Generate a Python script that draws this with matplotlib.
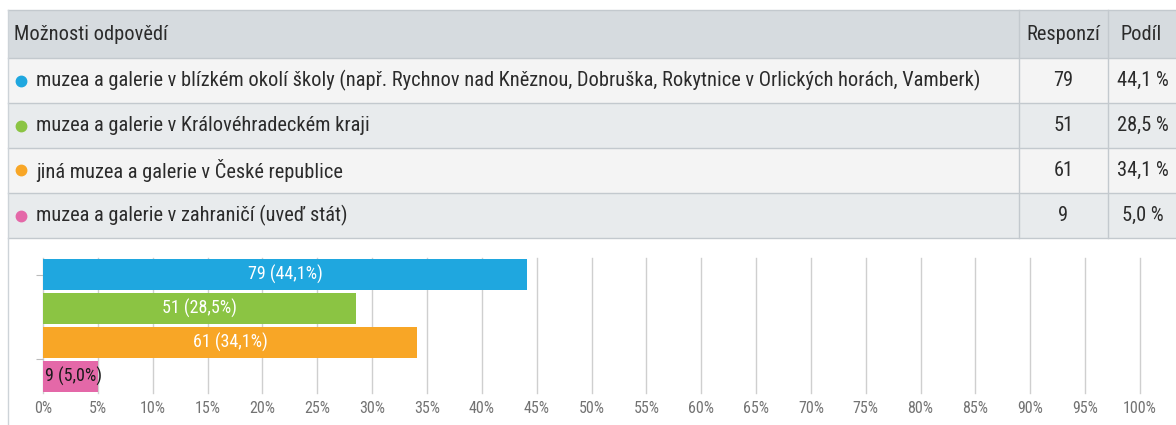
import matplotlib.pyplot as plt
from matplotlib import font_manager
from matplotlib.patches import Rectangle
from matplotlib.lines import Line2D

# data
options = [
    'muzea a galerie v blízkém okolí školy (např. Rychnov nad Kněznou, Dobruška, Rokytnice v Orlických horách, Vamberk)',
    'muzea a galerie v Královéhradeckém kraji',
    'jiná muzea a galerie v České republice',
    'muzea a galerie v zahraničí (uveď stát)',
]
responses = [79, 51, 61, 9]
shares = [44.1, 28.5, 34.1, 5.0]
colors = ['#1fa7df', '#8bc443', '#f8a626', '#e468a8']
header = ['Možnosti odpovědí', 'Responzí', 'Podíl']
xticks = list(range(0, 101, 5))

# pick a narrow face if one is installed
installed = {(f.name, f.stretch) for f in font_manager.fontManager.ttflist}
names = {n for n, _ in installed}
narrow = None
for cand in ['Liberation Sans Narrow', 'DejaVu Sans Condensed', 'Roboto Condensed',
             'Open Sans Condensed', 'Noto Sans Condensed']:
    if cand in names:
        narrow = (cand, 'normal')
        break
if narrow is None:
    for n, st in installed:
        if st in ('condensed', 'semi-condensed', 'extra-condensed') and 'DejaVu Sans' == n:
            narrow = (n, st)
            break
if narrow is None:
    narrow = ('DejaVu Sans', 'condensed')
nfont = dict(family=[narrow[0], 'DejaVu Sans'], fontstretch=narrow[1])

W, H = 1176, 425
fig = plt.figure(figsize=(W / 100, H / 100), dpi=100)
fig.patch.set_facecolor('white')


def fx(x):
    return x / W


def fy(y):
    return 1 - y / H


def rect(x0, y0, x1, y1, fc):
    fig.add_artist(Rectangle((fx(x0), fy(y1)), (x1 - x0) / W, (y1 - y0) / H,
                             transform=fig.transFigure, facecolor=fc,
                             edgecolor='none', zorder=0))


def line(xs, ys, c='#c3c9ce', lw=1.0):
    fig.add_artist(Line2D([fx(x) for x in xs], [fy(y) for y in ys],
                          transform=fig.transFigure, color=c, lw=lw, zorder=1))


# table geometry (pixels)
left, right = 8, 1180
col1, col2 = 1019, 1108
row_edges = [10, 58, 103, 148, 193, 238]
row_bg = ['#d6dbdf', '#f4f4f4', '#e8ebed', '#f4f4f4', '#e8ebed']

for i, bg in enumerate(row_bg):
    rect(left, row_edges[i], right, row_edges[i + 1], bg)
for y in row_edges:
    line([left, right], [y, y])
line([col1, col1], [row_edges[0], row_edges[-1]])
line([col2, col2], [row_edges[0], row_edges[-1]])
line([left, left], [row_edges[0], H], c='#cdd3d8')

tfont = dict(color='#2b2b2b', va='center', fontsize=15, **nfont)
texts = []
yc = [(row_edges[i] + row_edges[i + 1]) / 2 for i in range(5)]
texts.append(fig.text(fx(14), fy(yc[0]), header[0], ha='left', **tfont))
texts.append(fig.text(fx((col1 + col2) / 2), fy(yc[0]), header[1], ha='center', **tfont))
texts.append(fig.text(fx(1141), fy(yc[0]), header[2], ha='center', **tfont))
long_label = None
for i, (opt, r, s, c) in enumerate(zip(options, responses, shares, colors)):
    y = yc[i + 1]
    fig.add_artist(Line2D([fx(21)], [fy(y)], marker='o', markersize=7.5,
                          color=c, transform=fig.transFigure, zorder=2))
    t = fig.text(fx(36), fy(y), opt, ha='left', **tfont)
    if i == 0:
        long_label = t
    texts.append(t)
    texts.append(fig.text(fx((col1 + col2) / 2), fy(y), str(r), ha='center', **tfont))
    texts.append(fig.text(fx(1143), fy(y), f'{s:.1f} %'.replace('.', ','),
                          ha='center', **tfont))

# scale table font so the longest label spans like the reference
renderer = fig.canvas.get_renderer()
wbox = long_label.get_window_extent(renderer).width
scale = 941 / wbox
for t in texts:
    t.set_fontsize(min(t.get_fontsize() * scale, 15.5))

# bar chart
ax = fig.add_axes([fx(43), fy(393), (1140 - 43) / W, (393 - 258) / H])
ypos = list(range(len(shares)))
ax.barh(ypos, shares, height=0.92, color=colors, zorder=2)
ax.set_xlim(0, 100)
ax.set_ylim(len(shares) - 0.5, -0.5)
ax.set_xticks(xticks)
ax.set_xticklabels([f'{v}%' for v in xticks], **nfont)
ax.set_yticks([0, 2.5])
ax.set_yticklabels([])
ax.tick_params(axis='x', length=0, pad=6, labelsize=11.5, labelcolor='#737373')
ax.tick_params(axis='y', length=5, color='#bbbbbb', width=0.8)
ax.grid(axis='x', color='#cfcfcf', lw=1.0, zorder=0)
for gl in ax.get_xgridlines():
    gl.set_clip_on(False)
for sp in ax.spines.values():
    sp.set_visible(False)

for y, r, s in zip(ypos, responses, shares):
    lab = f'{r} ({s:.1f}%)'.replace('.', ',')
    if s > 10:
        ax.text(s / 2, y, lab, ha='center', va='center', color='white',
                fontsize=13, zorder=3, **nfont)
    else:
        ax.text(0.2, y, lab, ha='left', va='center', color='#1a1a1a',
                fontsize=13, zorder=3, **nfont)

fig.savefig('out.png', dpi=100)
